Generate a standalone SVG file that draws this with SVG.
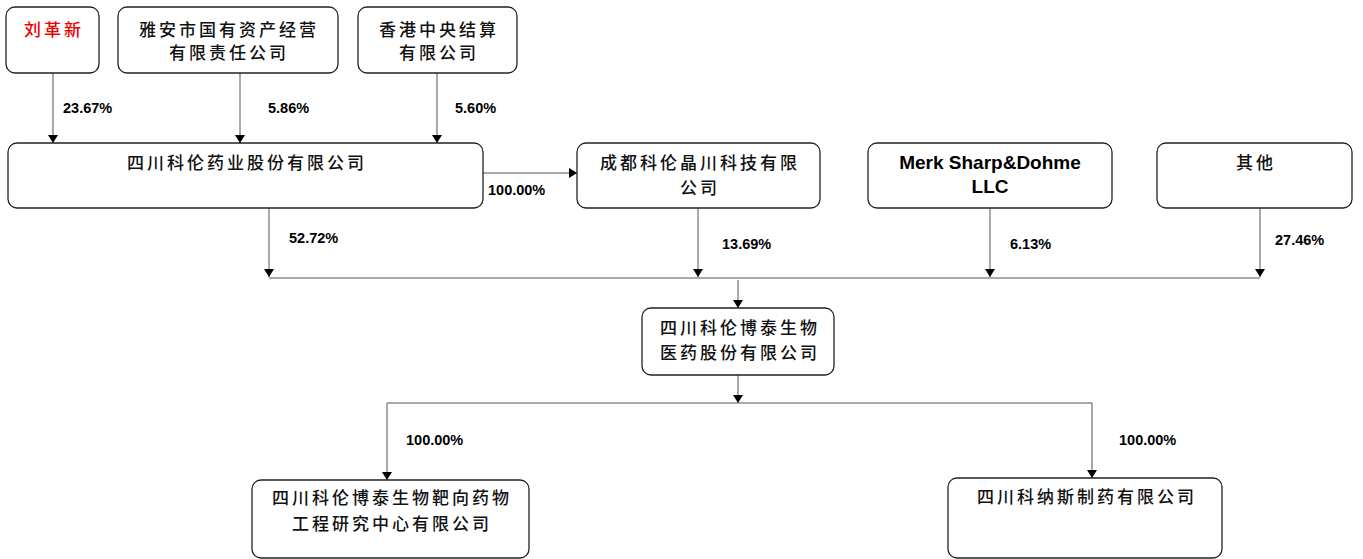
<svg xmlns="http://www.w3.org/2000/svg" width="1363" height="559" viewBox="0 0 1363 559">
<style>
.box{fill:#fff;stroke:#222;stroke-width:1.3}
.cn{font-family:"Noto Sans CJK SC","Noto Sans CJK TC",sans-serif;font-size:17px;font-weight:500;fill:#111;letter-spacing:3px;text-anchor:middle}
.en{font-family:"Liberation Sans",Arial,sans-serif;font-weight:bold;font-size:19px;fill:#000;text-anchor:middle}
.pct{font-family:"Liberation Sans",Arial,sans-serif;font-weight:bold;font-size:14.5px;fill:#000}
.ln{fill:none;stroke:#555;stroke-width:1}
</style>
<defs>
<marker id="ah" viewBox="0 0 8 10" refX="8" refY="5" markerWidth="8" markerHeight="10" markerUnits="userSpaceOnUse" orient="auto">
<path d="M0,0 L8,5 L0,10 Z" fill="#000"/>
</marker>
</defs>
<g id="connectors">
<path class="ln" d="M53,73 V143" marker-end="url(#ah)"/>
<path class="ln" d="M240,73 V143" marker-end="url(#ah)"/>
<path class="ln" d="M437,73 V143" marker-end="url(#ah)"/>
<path class="ln" d="M483,173 H577" marker-end="url(#ah)"/>
<path class="ln" d="M269,208 V277" marker-end="url(#ah)"/>
<path class="ln" d="M698,208 V277" marker-end="url(#ah)"/>
<path class="ln" d="M990,208 V277" marker-end="url(#ah)"/>
<path class="ln" d="M1260,208 V277" marker-end="url(#ah)"/>
<path class="ln" d="M269,278 H1260"/>
<path class="ln" d="M738,280 V308" marker-end="url(#ah)"/>
<path class="ln" d="M738,375 V403" marker-end="url(#ah)"/>
<path class="ln" d="M387,403 H1092"/>
<path class="ln" d="M387,403 V480" marker-end="url(#ah)"/>
<path class="ln" d="M1092,403 V478" marker-end="url(#ah)"/>
<text class="pct" x="63" y="113">23.67%</text>
<text class="pct" x="268" y="113">5.86%</text>
<text class="pct" x="455" y="113">5.60%</text>
<text class="pct" x="488" y="195">100.00%</text>
<text class="pct" x="289" y="243">52.72%</text>
<text class="pct" x="722" y="249">13.69%</text>
<text class="pct" x="1010" y="249">6.13%</text>
<text class="pct" x="1275" y="245">27.46%</text>
<text class="pct" x="406" y="445">100.00%</text>
<text class="pct" x="1119" y="445">100.00%</text>
</g>
<g id="n1"><rect class="box" x="6" y="7" width="93" height="66" rx="9"/><text class="cn" x="54" y="36" style="fill:#e00">刘革新</text></g>
<g id="n2"><rect class="box" x="118" y="7" width="220" height="66" rx="9"/><text class="cn" x="229" y="36">雅安市国有资产经营</text><text class="cn" x="229" y="59">有限责任公司</text></g>
<g id="n3"><rect class="box" x="358" y="7" width="159" height="66" rx="9"/><text class="cn" x="439" y="36">香港中央结算</text><text class="cn" x="439" y="59">有限公司</text></g>
<g id="n4"><rect class="box" x="8" y="143" width="475" height="65" rx="9"/><text class="cn" x="247" y="169">四川科伦药业股份有限公司</text></g>
<g id="n5"><rect class="box" x="577" y="143" width="243" height="65" rx="9"/><text class="cn" x="700" y="169">成都科伦晶川科技有限</text><text class="cn" x="700" y="194">公司</text></g>
<g id="n6"><rect class="box" x="868" y="143" width="244" height="65" rx="9"/><text class="en" x="990" y="169">Merk Sharp&amp;Dohme</text><text class="en" x="990" y="193">LLC</text></g>
<g id="n7"><rect class="box" x="1157" y="143" width="195" height="65" rx="9"/><text class="cn" x="1256" y="169">其他</text></g>
<g id="n8"><rect class="box" x="642" y="308" width="192" height="67" rx="9"/><text class="cn" x="740" y="334">四川科伦博泰生物</text><text class="cn" x="740" y="359">医药股份有限公司</text></g>
<g id="n9"><rect class="box" x="252" y="480" width="277" height="78" rx="9"/><text class="cn" x="392" y="504">四川科伦博泰生物靶向药物</text><text class="cn" x="392" y="530">工程研究中心有限公司</text></g>
<g id="n10"><rect class="box" x="948" y="478" width="274" height="80" rx="9"/><text class="cn" x="1087" y="503">四川科纳斯制药有限公司</text></g>
</svg>
